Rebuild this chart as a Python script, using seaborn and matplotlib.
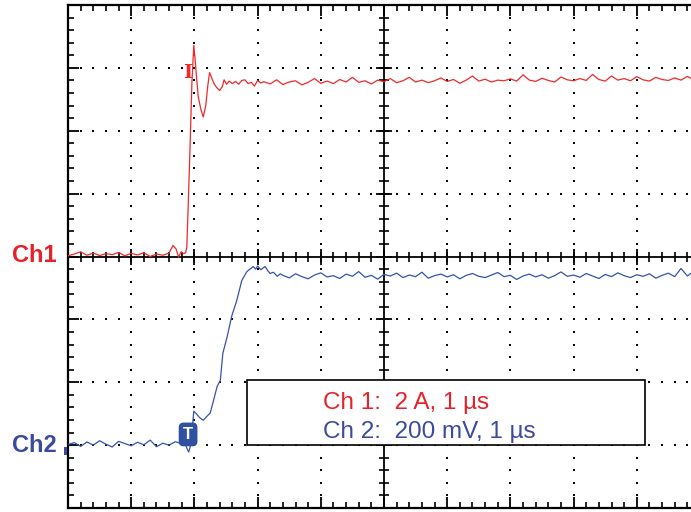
import numpy as np
import pandas as pd
import matplotlib
matplotlib.use("Agg")
import matplotlib.pyplot as plt
from matplotlib.patches import Rectangle
import seaborn as sns

# ---------------- data (time in µs, Ch1 in A, Ch2 in mV) ----------------
ch1_t = [0.0, 0.1, 0.2, 0.3, 0.4, 0.5, 0.6, 0.7, 0.8, 0.9, 1.0, 1.1, 1.2, 1.3, 1.4, 1.5, 1.6,
         1.66, 1.71, 1.75, 1.79, 1.83, 1.86, 1.88, 1.90, 1.93, 1.96, 1.99, 2.01, 2.03, 2.06,
         2.10, 2.14, 2.18, 2.21, 2.24, 2.27, 2.31, 2.35, 2.40, 2.44, 2.47, 2.51, 2.55, 2.60,
         2.65, 2.70, 2.75, 2.80, 2.85, 2.90, 2.95, 3.00, 3.05,
         3.1, 3.2, 3.3, 3.4, 3.5, 3.6, 3.7, 3.8, 3.9, 4.0, 4.1, 4.2, 4.3, 4.4, 4.5, 4.6, 4.7,
         4.8, 4.9, 5.0, 5.1, 5.2, 5.3, 5.4, 5.5, 5.6, 5.7, 5.8, 5.9, 6.0, 6.1, 6.2, 6.3, 6.4,
         6.5, 6.6, 6.7, 6.8, 6.9, 7.0, 7.1, 7.2, 7.3, 7.4, 7.5, 7.6, 7.7, 7.8, 7.9, 8.0, 8.1,
         8.2, 8.3, 8.4, 8.5, 8.6, 8.7, 8.8, 8.9, 9.0, 9.1, 9.2, 9.3, 9.4, 9.5, 9.6, 9.7, 9.8,
         9.9, 10.0]
ch1_amp = [0.02, 0.08, 0.15, 0.04, 0.11, 0.03, 0.09, 0.06, 0.13, 0.02, 0.10, 0.05, 0.12, 0.00,
           0.08, 0.04, 0.11,
           0.35, 0.24, -0.02, 0.15, 0.09, 0.12, 0.30, 1.50, 3.40, 5.50, 6.72, 6.30, 5.80, 5.10,
           4.70, 4.44, 4.80, 5.40, 5.85, 5.70, 5.50, 5.38, 5.28, 5.40, 5.62, 5.48, 5.58, 5.50,
           5.57, 5.48, 5.60, 5.62, 5.50, 5.54, 5.42, 5.60, 5.52,
           5.56, 5.49, 5.62, 5.47, 5.55, 5.59, 5.46, 5.54, 5.66, 5.51,
           5.58, 5.50, 5.63, 5.55, 5.70, 5.54, 5.59, 5.49, 5.61, 5.56,
           5.66, 5.53, 5.59, 5.70, 5.55, 5.61, 5.53, 5.59, 5.68, 5.57,
           5.63, 5.51, 5.61, 5.74, 5.58, 5.64, 5.55, 5.61, 5.59, 5.65,
           5.58, 5.78, 5.61, 5.57, 5.67, 5.60, 5.55, 5.71, 5.62, 5.59,
           5.66, 5.60, 5.79, 5.63, 5.58, 5.74, 5.61, 5.66, 5.59, 5.72,
           5.62, 5.58, 5.70, 5.63, 5.60, 5.68, 5.61, 5.73, 5.62, 5.66]

ch2_t = [0.0, 0.1, 0.2, 0.3, 0.4, 0.5, 0.6, 0.7, 0.8, 0.9, 1.0, 1.1, 1.2, 1.3, 1.4, 1.5, 1.6,
         1.7, 1.8,
         1.85, 1.88, 1.91, 1.94, 1.96, 1.99, 2.03, 2.08, 2.14, 2.20, 2.25, 2.30, 2.36, 2.41,
         2.45, 2.52, 2.59, 2.67, 2.75, 2.83, 2.88, 2.93, 2.97, 3.00, 3.05, 3.12, 3.16, 3.20,
         3.25, 3.31, 3.36,
         3.4, 3.5, 3.6, 3.7, 3.8, 3.9, 4.0, 4.1, 4.2, 4.3, 4.4, 4.5, 4.6, 4.7, 4.8, 4.9, 5.0,
         5.1, 5.2, 5.3, 5.4, 5.5, 5.6, 5.7, 5.8, 5.9, 6.0, 6.1, 6.2, 6.3, 6.4, 6.5, 6.6, 6.7,
         6.8, 6.9, 7.0, 7.1, 7.2, 7.3, 7.4, 7.5, 7.6, 7.7, 7.8, 7.9, 8.0, 8.1, 8.2, 8.3, 8.4,
         8.5, 8.6, 8.7, 8.8, 8.9, 9.0, 9.1, 9.2, 9.3, 9.4, 9.5, 9.6, 9.7, 9.8, 9.9, 10.0]
ch2_amp = [2, 8, -4, 10, 0, 14, 3, -6, 12, 5, -2, 9, 1, 16, -5, 6, 0, 11, 4,
           8, -10, -22, 0, 40, 108, 100, 88, 79, 92, 102, 140, 187, 206,
           292, 346, 410, 460, 524, 552, 560, 568, 560, 570, 558, 568, 555, 546,
           550, 537, 545,
           540, 532, 545, 536, 529, 541, 548, 535, 539, 530,
           544, 537, 552, 534, 540, 528, 543, 538, 547, 533,
           541, 536, 550, 531, 539, 544, 535, 542, 529, 540,
           546, 537, 533, 541, 549, 536, 540, 527, 538, 544,
           535, 542, 531, 539, 551, 537, 541, 534, 546, 538,
           530, 543, 536, 548, 539, 533, 542, 537, 545, 531,
           540, 547, 536, 562, 538, 553, 541]

ch1_scale = 2.0     # A per division
ch2_scale = 200.0   # mV per division
ch1_offset = 0.0    # divisions
ch2_offset = -3.0   # divisions
legend_lines = ["Ch 1:  2 A, 1 µs", "Ch 2:  200 mV, 1 µs"]

RED = "#ee2a2a"
BLUE = "#3553ad"
RED_TXT = "#e8202a"
BLUE_TXT = "#3b4a9c"

df1 = pd.DataFrame({"t": ch1_t, "div": np.array(ch1_amp) / ch1_scale + ch1_offset})
df2 = pd.DataFrame({"t": ch2_t, "div": np.array(ch2_amp) / ch2_scale + ch2_offset})

sns.set_style("white")
plt.rcParams["font.family"] = ["Liberation Sans", "DejaVu Sans"]

W, H = 691, 512
fig = plt.figure(figsize=(W / 100, H / 100), dpi=100)
ax = fig.add_axes([68 / W, 4 / H, 632 / W, 503 / H])
ax.set_xlim(0, 10)
ax.set_ylim(-4, 4)

# spines
for s in ["left", "top", "bottom"]:
    ax.spines[s].set_linewidth(1.6)
    ax.spines[s].set_color("black")
ax.spines["right"].set_visible(False)

ax.set_xticks(np.arange(0, 11, 1))
ax.set_xticks(np.arange(0, 10.01, 0.2), minor=True)
ax.set_yticks(np.arange(-4, 5, 1))
ax.set_yticks(np.arange(-4, 4.01, 0.2), minor=True)
ax.tick_params(which="both", direction="in", top=True, bottom=True, left=True, right=False,
               labelbottom=False, labelleft=False, color="black")
ax.tick_params(which="major", length=8, width=1.3)
ax.tick_params(which="minor", length=4.5, width=1.2)

# dotted graticule
minor = np.round(np.arange(0, 10.01, 0.2), 2)
minor_y = np.round(np.arange(-4, 4.01, 0.2), 2)
for gx in [1, 2, 3, 4, 6, 7, 8, 9]:
    ax.plot(np.full(len(minor_y), gx), minor_y, ls="none", marker="s", ms=1.7,
            color="black", mew=0, zorder=1)
for gy in [-3, -2, -1, 1, 2, 3]:
    ax.plot(minor, np.full(len(minor), gy), ls="none", marker="s", ms=1.7,
            color="black", mew=0, zorder=1)

# centre axes with ticks
ax.axhline(0, color="black", lw=1.3, zorder=1)
ax.axvline(5, color="black", lw=1.3, zorder=1)
ax.plot(minor, np.zeros(len(minor)), ls="none", marker="|", ms=7, mew=1.2, color="black", zorder=1)
ax.plot(np.arange(0, 11, 1), np.zeros(11), ls="none", marker="|", ms=12, mew=1.3, color="black", zorder=1)
ax.plot(np.full(len(minor_y), 5), minor_y, ls="none", marker="_", ms=7, mew=1.2, color="black", zorder=1)
ax.plot(np.full(9, 5), np.arange(-4, 5, 1), ls="none", marker="_", ms=12, mew=1.3, color="black", zorder=1)

# traces
sns.lineplot(data=df1, x="t", y="div", ax=ax, color=RED, lw=0.9, sort=False,
             estimator=None, legend=False, zorder=3)
sns.lineplot(data=df2, x="t", y="div", ax=ax, color=BLUE, lw=0.9, sort=False,
             estimator=None, legend=False, zorder=3)
ax.set_xlabel("")
ax.set_ylabel("")

# legend box
ax.add_patch(Rectangle((2.83, -3.0), 6.30, 1.03, facecolor="white", edgecolor="black",
                       lw=1.2, zorder=4))
fig.text(323 / W, 1 - 409 / H, legend_lines[0], color=RED_TXT, fontsize=17.5,
         va="baseline", ha="left", zorder=5)
fig.text(323 / W, 1 - 438 / H, legend_lines[1], color=BLUE_TXT, fontsize=17.5,
         va="baseline", ha="left", zorder=5)

# channel labels
fig.text(12 / W, 1 - 256 / H, "Ch1", color=RED_TXT, fontsize=17, fontweight="bold",
         va="center", ha="left")
fig.text(12 / W, 1 - 446 / H, "Ch2", color=BLUE_TXT, fontsize=17, fontweight="bold",
         va="center", ha="left")
fig.patches.append(Rectangle((64 / W, 1 - 455 / H), 3 / W, 8 / H, transform=fig.transFigure,
                             facecolor=BLUE_TXT, edgecolor="none"))

# trigger markers
ax.text(1.90, 2.92, "I", color=RED, fontsize=14, fontweight="bold", family="DejaVu Serif",
        ha="center", va="center", zorder=6)
ax.text(1.90, -2.83, "T", color="white", fontsize=12, fontweight="bold", ha="center",
        va="center", zorder=6,
        bbox=dict(boxstyle="round,pad=0.22,rounding_size=0.25", facecolor="#3050a0",
                  edgecolor="#3050a0"))

fig.savefig("out.png", dpi=100)
